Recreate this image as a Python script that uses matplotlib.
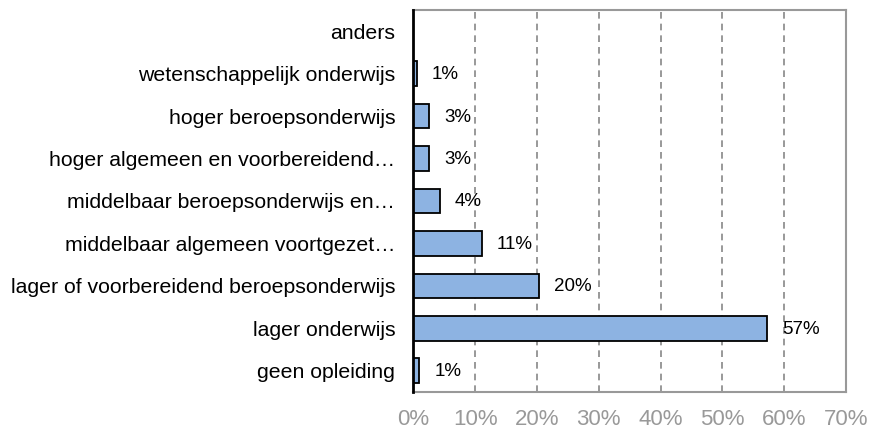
import matplotlib
matplotlib.use("Agg")
import matplotlib.pyplot as plt
import numpy as np

plt.rcParams['font.family'] = ['Liberation Sans', 'DejaVu Sans']

# categories from bottom to top
categories = [
    "geen opleiding",
    "lager onderwijs",
    "lager of voorbereidend beroepsonderwijs",
    "middelbaar algemeen voortgezet\u2026",
    "middelbaar beroepsonderwijs en\u2026",
    "hoger algemeen en voorbereidend\u2026",
    "hoger beroepsonderwijs",
    "wetenschappelijk onderwijs",
    "anders",
]
values = [1.0, 57.3, 20.4, 11.1, 4.3, 2.6, 2.6, 0.6, 0.0]
value_labels = ["1%", "57%", "20%", "11%", "4%", "3%", "3%", "1%", ""]
xticks = [0, 10, 20, 30, 40, 50, 60, 70]

fig = plt.figure(figsize=(8.71, 4.33), dpi=100)
ax = fig.add_axes([413.3 / 871, 1 - 392 / 433, (846 - 413.3) / 871, (392 - 10) / 433])

y = np.arange(len(categories))
ax.barh(y, values, height=0.58, color="#8DB3E2", edgecolor="black", linewidth=1.3, zorder=3)

# percentage labels right of each bar
for yi, v, lab in zip(y, values, value_labels):
    if lab:
        ax.annotate(lab, (v, yi), xytext=(15, -1), textcoords="offset pixels",
                    va="center", ha="left", fontsize=13.5, color="black", zorder=4)

ax.set_xlim(0, 70)
ax.set_ylim(-0.5, len(categories) - 0.5)
ax.set_yticks(y)
ax.set_yticklabels(categories, fontsize=15.3)
ax.set_xticks(xticks)
ax.set_xticklabels(["%d%%" % t for t in xticks], fontsize=16, color="#999999")
ax.tick_params(axis="y", length=0, pad=13)
ax.tick_params(axis="x", length=0, pad=12)

ax.xaxis.grid(True, linestyle=(0, (4, 3)), color="#888888", linewidth=1.2, zorder=1)
ax.yaxis.grid(False)

for side in ["top", "right", "bottom"]:
    ax.spines[side].set_color("#999999")
    ax.spines[side].set_linewidth(1.5)
ax.spines["left"].set_color("black")
ax.spines["left"].set_linewidth(2)
ax.spines["left"].set_zorder(5)

fig.savefig("out.png", dpi=100)
